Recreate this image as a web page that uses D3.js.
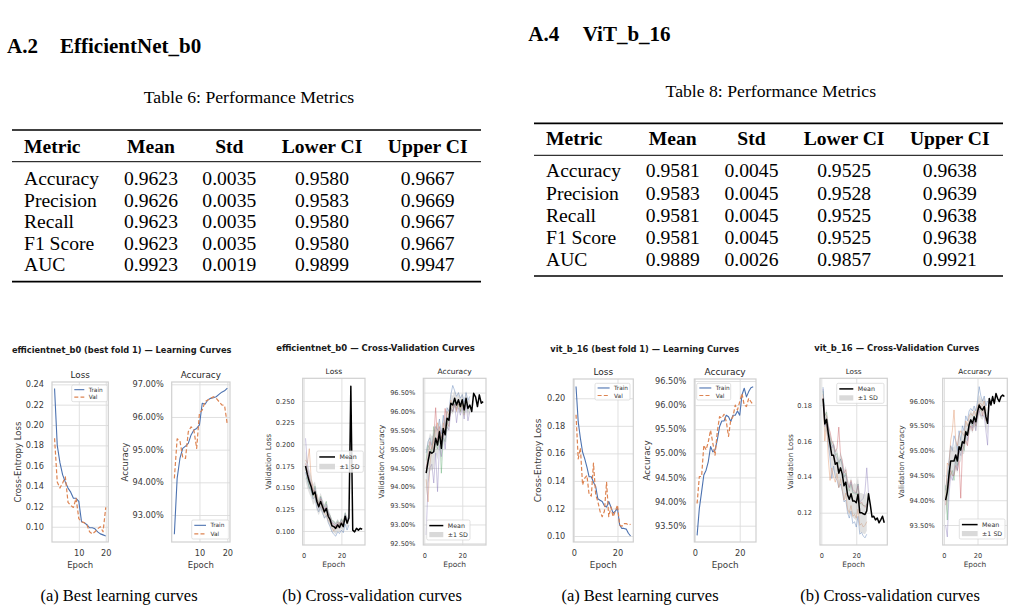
<!DOCTYPE html>
<html>
<head>
<meta charset="utf-8">
<script src="https://cdn.jsdelivr.net/npm/d3@7"></script>
<style>
  body { margin: 0; background: #fff; }
  svg { display: block; }
</style>
</head>
<body>
<svg id="page" width="1015" height="612"></svg>
<script>
// ---------- tables ----------
const tableHeaders = ['Metric', 'Mean', 'Std', 'Lower CI', 'Upper CI'];
const metricNames = ['Accuracy', 'Precision', 'Recall', 'F1 Score', 'AUC'];

const effMean  = ['0.9623', '0.9626', '0.9623', '0.9623', '0.9923'];
const effStd   = ['0.0035', '0.0035', '0.0035', '0.0035', '0.0019'];
const effLower = ['0.9580', '0.9583', '0.9580', '0.9580', '0.9899'];
const effUpper = ['0.9667', '0.9669', '0.9667', '0.9667', '0.9947'];

const vitMean  = ['0.9581', '0.9583', '0.9581', '0.9581', '0.9889'];
const vitStd   = ['0.0045', '0.0045', '0.0045', '0.0045', '0.0026'];
const vitLower = ['0.9525', '0.9528', '0.9525', '0.9525', '0.9857'];
const vitUpper = ['0.9638', '0.9639', '0.9638', '0.9638', '0.9921'];

// ---------- efficientnet_b0, best fold ----------
const effTrainLoss = [0.236, 0.180, 0.163, 0.151, 0.144, 0.138, 0.134, 0.128, 0.128, 0.125, 0.105, 0.104, 0.102, 0.099, 0.099, 0.098, 0.095, 0.093, 0.092, 0.091];
const effValLoss   = [0.187, 0.144, 0.138, 0.143, 0.149, 0.124, 0.121, 0.119, 0.128, 0.108, 0.105, 0.104, 0.102, 0.095, 0.093, 0.095, 0.098, 0.100, 0.095, 0.119];
const effTrainAcc  = [92.41, 94.12, 94.73, 95.04, 95.11, 95.19, 95.45, 95.60, 95.65, 95.76, 96.42, 96.39, 96.52, 96.57, 96.59, 96.62, 96.69, 96.76, 96.80, 96.88];
const effValAcc    = [94.12, 95.33, 95.27, 94.76, 94.73, 95.55, 95.70, 95.60, 95.04, 96.12, 96.21, 96.47, 96.52, 96.57, 96.62, 96.57, 96.47, 96.37, 96.35, 95.76];

// ---------- efficientnet_b0, cross-validation ----------
const effCvLossMean = [0.175, 0.165, 0.157, 0.151, 0.142, 0.145, 0.134, 0.128, 0.134, 0.128, 0.122, 0.126, 0.117, 0.113, 0.106, 0.105, 0.103, 0.107, 0.104, 0.109, 0.105, 0.117, 0.109, 0.115, 0.267, 0.101, 0.099, 0.103, 0.101, 0.103, 0.102];
const effCvLossSd   = [0.018, 0.016, 0.014, 0.013, 0.012, 0.012, 0.011, 0.010, 0.010, 0.009, 0.009, 0.009, 0.008, 0.008, 0.007, 0.007, 0.007, 0.007, 0.006, 0.006, 0.006, 0.006, 0.006, 0.006];
const effLossFold1 = [0.168, 0.158, 0.150, 0.146, 0.137, 0.140, 0.127, 0.122, 0.128, 0.121, 0.115, 0.118, 0.110, 0.105, 0.099, 0.096, 0.094, 0.099, 0.097, 0.101, 0.098, 0.108, 0.101, 0.107];
const effLossFold2 = [0.182, 0.178, 0.195, 0.160, 0.150, 0.138, 0.142, 0.131, 0.129, 0.125, 0.120, 0.119, 0.112, 0.110, 0.104, 0.100, 0.106, 0.103, 0.110, 0.107, 0.112, 0.118];
const effLossFold3 = [0.160, 0.162, 0.150, 0.148, 0.140, 0.152, 0.136, 0.133, 0.140, 0.132, 0.128, 0.134, 0.121, 0.118, 0.112, 0.111, 0.108, 0.112, 0.107, 0.114, 0.110, 0.121, 0.114];
const effLossFold4 = [0.178, 0.170, 0.160, 0.155, 0.146, 0.147, 0.136, 0.130, 0.137, 0.131, 0.125, 0.128, 0.120, 0.116, 0.109, 0.108, 0.105, 0.110, 0.106, 0.111];
const effLossFold5 = [0.207, 0.175, 0.163, 0.150, 0.143, 0.150, 0.138, 0.126, 0.139, 0.133, 0.124, 0.131, 0.122, 0.117, 0.110, 0.109, 0.106, 0.110, 0.108, 0.113, 0.108, 0.120, 0.112, 0.118];

const effCvAccMean = [94.36, 94.67, 94.93, 94.89, 94.93, 95.29, 95.11, 95.46, 95.02, 95.55, 95.38, 95.82, 95.77, 96.22, 96.17, 96.35, 96.17, 96.31, 96.13, 96.31, 96.04, 96.35, 96.08, 96.17, 96.00, 96.48, 96.39, 96.13, 96.44, 96.22, 96.26];
const effCvAccSd   = [0.60, 0.55, 0.50, 0.45, 0.45, 0.40, 0.40, 0.35, 0.35, 0.30, 0.30, 0.28, 0.25, 0.25, 0.25, 0.22, 0.20, 0.20, 0.20, 0.20, 0.20, 0.20, 0.20, 0.20];
const effAccFold1 = [94.90, 95.20, 95.30, 95.10, 95.40, 95.60, 95.50, 95.80, 95.40, 95.90, 95.60, 96.10, 96.00, 96.45, 96.69, 96.55, 96.40, 96.50, 96.35, 96.45, 96.25, 96.50, 96.30, 96.40];
const effAccFold2 = [94.20, 93.60, 94.60, 95.00, 95.20, 95.50, 95.70, 95.30, 95.20, 95.70, 95.50, 96.00, 95.90, 96.30, 96.10, 96.20, 96.00, 96.30, 96.00, 96.20, 95.90, 96.20];
const effAccFold3 = [94.70, 95.10, 95.00, 94.90, 95.60, 95.20, 95.00, 95.50, 94.36, 95.30, 95.20, 95.60, 95.80, 96.10, 96.00, 96.30, 96.10, 96.20, 96.00, 96.25, 95.95, 96.30, 96.00];
const effAccFold4 = [94.50, 94.80, 95.20, 95.00, 95.30, 96.10, 95.20, 95.60, 95.30, 95.40, 96.08, 95.70, 95.60, 96.10, 96.00, 96.20, 96.05, 96.20, 96.10, 96.20];
const effAccFold5 = [92.72, 94.10, 94.50, 94.60, 94.10, 94.90, 93.87, 95.10, 94.80, 95.40, 95.00, 95.60, 95.50, 96.05, 96.00, 96.20, 95.70, 96.10, 95.90, 96.10, 95.80, 96.20, 95.75, 96.00];

// ---------- vit_b_16, best fold ----------
const vitTrainLoss = [0.2085, 0.183, 0.171, 0.161, 0.156, 0.150, 0.143, 0.143, 0.139, 0.136, 0.127, 0.126, 0.125, 0.122, 0.121, 0.125, 0.121, 0.1165, 0.118, 0.120, 0.108, 0.1055, 0.1055, 0.105, 0.102, 0.100];
const vitValLoss   = [0.188, 0.156, 0.164, 0.137, 0.142, 0.144, 0.130, 0.129, 0.153, 0.130, 0.125, 0.118, 0.114, 0.118, 0.139, 0.114, 0.121, 0.114, 0.118, 0.1225, 0.108, 0.107, 0.109, 0.109, 0.108, 0.1085];
const vitTrainAcc  = [93.30, 93.86, 94.20, 94.55, 94.65, 94.83, 95.14, 95.03, 95.07, 95.28, 95.55, 95.67, 95.67, 95.79, 95.76, 95.66, 95.79, 95.79, 95.88, 95.79, 96.21, 96.35, 96.17, 96.28, 96.36, 96.38];
const vitValAcc    = [93.96, 94.52, 94.52, 95.17, 95.07, 95.24, 95.48, 95.21, 94.96, 95.45, 95.76, 95.73, 95.81, 95.66, 95.35, 95.69, 95.76, 96.00, 95.90, 96.07, 96.24, 96.00, 95.97, 96.14, 96.07, 96.00];

// ---------- vit_b_16, cross-validation ----------
const vitCvLossMean = [0.1836, 0.1695, 0.172, 0.164, 0.158, 0.152, 0.152, 0.147, 0.148, 0.142, 0.145, 0.1415, 0.135, 0.137, 0.130, 0.1275, 0.1306, 0.1265, 0.1265, 0.1256, 0.1303, 0.120, 0.120, 0.1194, 0.119, 0.121, 0.1306, 0.1247, 0.1176, 0.118, 0.116, 0.117, 0.1144, 0.116, 0.118, 0.1144];
const vitCvLossSd   = [0.004, 0.005, 0.006, 0.007, 0.007, 0.008, 0.008, 0.008, 0.008, 0.008, 0.009, 0.009, 0.009, 0.009, 0.009, 0.009, 0.009, 0.009, 0.010, 0.010, 0.010, 0.011, 0.011, 0.011, 0.011, 0.011];
const vitLossFold1 = [0.190, 0.172, 0.168, 0.158, 0.150, 0.139, 0.146, 0.140, 0.138, 0.134, 0.136, 0.132, 0.126, 0.127, 0.120, 0.117, 0.121, 0.114, 0.115, 0.112, 0.118, 0.108, 0.109, 0.107, 0.106, 0.108];
const vitLossFold2 = [0.186, 0.160, 0.170, 0.150, 0.138, 0.145, 0.140, 0.137, 0.142, 0.134, 0.139, 0.133, 0.127, 0.131, 0.122, 0.120, 0.124, 0.118, 0.119, 0.117, 0.122, 0.113, 0.114, 0.112, 0.113, 0.115];
const vitLossFold3 = [0.188, 0.174, 0.176, 0.166, 0.162, 0.158, 0.157, 0.152, 0.153, 0.147, 0.150, 0.146, 0.140, 0.142, 0.135, 0.132, 0.136, 0.131, 0.131, 0.130, 0.136, 0.125, 0.125, 0.124, 0.124];
const vitLossFold4 = [0.184, 0.175, 0.174, 0.168, 0.165, 0.160, 0.158, 0.154, 0.156, 0.1677, 0.152, 0.149, 0.142, 0.144, 0.137, 0.134, 0.138, 0.133, 0.132, 0.131, 0.135, 0.125, 0.126, 0.124, 0.123, 0.125];
const vitLossFold5 = [0.189, 0.168, 0.172, 0.168, 0.160, 0.156, 0.158, 0.152, 0.150, 0.148, 0.150, 0.147, 0.140, 0.141, 0.136, 0.134, 0.137, 0.132, 0.131, 0.131, 0.136, 0.126, 0.127, 0.128, 0.132, 0.145, 0.1306];

const vitCvAccMean = [94.00, 94.17, 94.51, 94.79, 94.79, 94.79, 94.91, 94.79, 95.08, 95.01, 95.18, 95.15, 95.38, 95.31, 95.52, 95.62, 95.55, 95.68, 95.58, 95.78, 95.92, 95.85, 95.82, 95.89, 95.68, 95.55, 96.05, 95.92, 96.09, 95.95, 96.15, 96.05, 95.99, 96.09, 96.12, 96.09];
const vitCvAccSd   = [0.30, 0.30, 0.30, 0.30, 0.28, 0.28, 0.28, 0.25, 0.25, 0.25, 0.25, 0.22, 0.22, 0.22, 0.20, 0.20, 0.20, 0.20, 0.20, 0.20, 0.20, 0.20, 0.20, 0.20, 0.22, 0.22];
const vitAccFold1 = [94.20, 94.50, 94.80, 95.10, 95.00, 95.30, 95.20, 95.00, 95.40, 95.20, 95.50, 95.40, 95.70, 95.60, 95.80, 95.85, 95.80, 95.90, 95.80, 96.00, 96.29, 96.10, 96.00, 96.10, 95.90, 96.00];
const vitAccFold2 = [94.00, 94.75, 94.70, 95.20, 95.40, 95.82, 95.20, 95.10, 95.30, 95.40, 95.35, 95.30, 95.60, 95.50, 95.70, 95.75, 95.70, 95.80, 95.70, 95.90, 95.95, 95.95, 95.90, 96.00, 95.80];
const vitAccFold3 = [94.30, 93.60, 94.60, 94.50, 94.60, 94.40, 94.90, 94.70, 95.00, 95.10, 95.20, 95.00, 95.40, 95.30, 95.50, 95.60, 95.50, 95.70, 95.50, 95.80, 95.90, 95.80, 95.80, 95.90];
const vitAccFold4 = [93.90, 94.20, 94.30, 94.60, 94.50, 94.50, 94.70, 94.60, 94.80, 94.04, 95.00, 95.10, 95.20, 95.10, 95.40, 95.50, 95.40, 95.60, 95.50, 95.70, 95.80, 95.90, 95.70, 95.90, 95.60, 95.70];
const vitAccFold5 = [93.50, 93.26, 94.10, 94.50, 94.40, 94.60, 94.80, 94.60, 95.00, 94.90, 95.10, 95.20, 95.40, 95.20, 95.50, 95.60, 95.45, 95.60, 95.40, 95.70, 95.80, 95.70, 95.70, 95.70, 95.40, 95.11, 96.05];

// ---------- tick values ----------
const effLossTicks   = [0.10, 0.12, 0.14, 0.16, 0.18, 0.20, 0.22, 0.24];
const effAccTicks    = [93, 94, 95, 96, 97];
const effCvLossTicks = [0.100, 0.125, 0.150, 0.175, 0.200, 0.225, 0.250];
const effCvAccTicks  = [92.5, 93, 93.5, 94, 94.5, 95, 95.5, 96, 96.5];
const vitLossTicks   = [0.10, 0.12, 0.14, 0.16, 0.18, 0.20];
const vitAccTicks    = [93.5, 94, 94.5, 95, 95.5, 96, 96.5];
const vitCvLossTicks = [0.12, 0.14, 0.16, 0.18];
const vitCvAccTicks  = [93.5, 94, 94.5, 95, 95.5, 96];

const SERIF = '"Liberation Serif", "Times New Roman", serif';
const SANS = '"DejaVu Sans", Verdana, sans-serif';
const BLUE = '#4c72b0', ORANGE = '#dd8452';
const FOLD_COLORS = ['#4c72b0', '#dd8452', '#55a868', '#c44e52', '#8172b3'];

const svg = d3.select('#page');

// ---------- headings ----------
function heading(num, name, x0, x1, baseline) {
    svg.append('text').attr('x', x0).attr('y', baseline)
        .attr('font-family', SERIF).attr('font-weight', 'bold').attr('font-size', 21).text(num);
    svg.append('text').attr('x', x1).attr('y', baseline)
        .attr('font-family', SERIF).attr('font-weight', 'bold').attr('font-size', 21).text(name);
}
heading('A.2', 'EfficientNet_b0', 7, 60, 53.3);
heading('A.4', 'ViT_b_16', 528.3, 582.7, 40.7);

// ---------- tables ----------
function drawTable(t) {
    const g = svg.append('g').attr('font-family', SERIF).attr('fill', '#000');
    g.append('text').attr('x', t.captionX).attr('y', t.captionY)
        .attr('text-anchor', 'middle').attr('font-size', 17.7).text(t.caption);

    const rule = (yy, w) => g.append('line')
        .attr('x1', t.x0).attr('x2', t.x1).attr('y1', yy).attr('y2', yy)
        .attr('stroke', '#000').attr('stroke-width', w);
    rule(t.top, 1.7);
    rule(t.mid, 1);
    rule(t.bottom, 1.7);

    g.selectAll('.hdr').data(tableHeaders).join('text')
        .attr('x', (d, i) => t.cols[i])
        .attr('y', t.headerY)
        .attr('text-anchor', (d, i) => i === 0 ? 'start' : 'middle')
        .attr('font-weight', 'bold').attr('font-size', 19.6)
        .text(d => d);

    const columns = [metricNames, t.mean, t.std, t.lower, t.upper];
    metricNames.forEach((m, r) => {
        columns.forEach((col, c) => {
            g.append('text')
                .attr('x', t.cols[c])
                .attr('y', t.rowY0 + r * t.rowStep)
                .attr('text-anchor', c === 0 ? 'start' : 'middle')
                .attr('font-size', 19.6)
                .text(col[r]);
        });
    });
}

drawTable({
    caption: 'Table 6: Performance Metrics', captionX: 249, captionY: 103.3,
    x0: 12, x1: 481, top: 130, mid: 161.7, bottom: 281.7,
    cols: [24, 151, 229.3, 322, 427.7], headerY: 152.7, rowY0: 185, rowStep: 21.6,
    mean: effMean, std: effStd, lower: effLower, upper: effUpper
});
drawTable({
    caption: 'Table 8: Performance Metrics', captionX: 770.8, captionY: 96.7,
    x0: 534, x1: 1003, top: 123.3, mid: 155.3, bottom: 276,
    cols: [546, 672.8, 751.5, 844.1, 949.8], headerY: 145.3, rowY0: 177.3, rowStep: 22.2,
    mean: vitMean, std: vitStd, lower: vitLower, upper: vitUpper
});

// ---------- plot panels ----------
const pct = d => d.toFixed(2) + '%';
const trainValItems = [
    { label: 'Train', color: BLUE, width: 1.1 },
    { label: 'Val', color: ORANGE, width: 1.2, dash: '4,2.2' }
];
const meanSdItems = [
    { label: 'Mean', color: '#000', width: 1.5 },
    { label: '\u00b11 SD', patch: true }
];

function drawLegend(g, L, fs) {
    g.append('rect')
        .attr('x', L.x).attr('y', L.y).attr('width', L.w).attr('height', L.h)
        .attr('rx', 1.5).attr('fill', '#fff').attr('fill-opacity', 0.85)
        .attr('stroke', '#d4d4d4').attr('stroke-width', 0.7);
    L.items.forEach((it, i) => {
        const cy = L.y + L.h * (i === 0 ? 0.28 : 0.73);
        const sx0 = L.x + 2.6, sx1 = sx0 + L.sample;
        if (it.patch) {
            g.append('rect').attr('x', sx0).attr('y', cy - L.h * 0.13)
                .attr('width', L.sample).attr('height', L.h * 0.26)
                .attr('fill', '#d9d9d9');
        } else {
            g.append('line').attr('x1', sx0).attr('x2', sx1).attr('y1', cy).attr('y2', cy)
                .attr('stroke', it.color).attr('stroke-width', it.width)
                .attr('stroke-dasharray', it.dash || null);
        }
        g.append('text').attr('x', sx1 + 4.5).attr('y', cy).attr('dy', '0.35em')
            .attr('font-size', fs).attr('fill', '#333').text(it.label);
    });
}

function drawPanel(p) {
    const [x0, y0, x1, y1] = p.box;
    const all = (p.lines || []).map(s => s.values).concat(p.folds || []).concat(p.mean ? [p.mean] : []);
    const n = d3.max(all, v => v.length);
    const pad = 0.05 * (n - 1);
    const x = d3.scaleLinear().domain([1 - pad, n + pad]).range([x0, x1]);
    const y = d3.scaleLinear().domain(p.yDomain).range([y1, y0]);

    const g = svg.append('g').attr('font-family', SANS);

    // y axis with grid
    const ya = g.append('g').attr('transform', `translate(${x0},0)`)
        .call(d3.axisLeft(y).tickValues(p.yTicks).tickFormat(p.yFmt)
            .tickSize(-(x1 - x0)).tickPadding(8));
    // x axis with grid
    const xa = g.append('g').attr('transform', `translate(0,${y1})`)
        .call(d3.axisBottom(x).tickValues(p.xTicks).tickFormat(d3.format('d'))
            .tickSize(-(y1 - y0)).tickPadding(11 - 0.345 * p.fs.tick));
    [ya, xa].forEach(a => {
        a.select('.domain').remove();
        a.selectAll('line').attr('stroke', '#dcdcdc').attr('stroke-width', 0.9);
        a.selectAll('text').attr('font-family', SANS).attr('font-size', p.fs.tick).attr('fill', '#3a3a3a');
    });

    g.append('clipPath').attr('id', p.id)
        .append('rect').attr('x', x0).attr('y', y0).attr('width', x1 - x0).attr('height', y1 - y0);
    const plot = g.append('g').attr('clip-path', `url(#${p.id})`);
    const line = d3.line().x((d, i) => x(i + 1)).y(d => y(d));

    if (p.folds) {
        p.folds.forEach((f, k) => {
            plot.append('path').attr('d', line(f)).attr('fill', 'none')
                .attr('stroke', FOLD_COLORS[k]).attr('stroke-width', 0.8).attr('stroke-opacity', 0.5);
        });
        const area = d3.area().x((d, i) => x(i + 1))
            .y0((d, i) => y(p.mean[i] - d)).y1((d, i) => y(p.mean[i] + d));
        plot.append('path').attr('d', area(p.sd)).attr('fill', '#a8a8a8').attr('fill-opacity', 0.35);
        plot.append('path').attr('d', line(p.mean)).attr('fill', 'none')
            .attr('stroke', '#000').attr('stroke-width', 1.5).attr('stroke-linejoin', 'round');
    }
    (p.lines || []).forEach(s => {
        plot.append('path').attr('d', line(s.values)).attr('fill', 'none')
            .attr('stroke', s.color).attr('stroke-width', s.width)
            .attr('stroke-dasharray', s.dash || null).attr('stroke-linejoin', 'round');
    });

    // spines
    g.append('rect').attr('x', x0).attr('y', y0).attr('width', x1 - x0).attr('height', y1 - y0)
        .attr('fill', 'none').attr('stroke', '#d0d0d0').attr('stroke-width', 1.2);

    g.append('text').attr('x', (x0 + x1) / 2).attr('y', y0 - 7).attr('dy', '0.35em')
        .attr('text-anchor', 'middle').attr('font-size', p.fs.title).attr('fill', '#262626').text(p.title);
    g.append('text').attr('x', (x0 + x1) / 2).attr('y', 565).attr('dy', '0.33em')
        .attr('text-anchor', 'middle').attr('font-size', p.fs.label).attr('fill', '#3a3a3a').text('Epoch');
    g.append('text').attr('transform', `translate(${p.ylabelX},${(y0 + y1) / 2}) rotate(-90)`)
        .attr('dy', '0.35em').attr('text-anchor', 'middle')
        .attr('font-size', p.fs.label).attr('fill', '#3a3a3a').text(p.ylabel);

    drawLegend(g, p.legend, p.fs.legend);
}

const fsBig = { tick: 8.2, label: 8.5, title: 8.8, legend: 5.8 };
const fsSmall = { tick: 6.6, label: 7.5, title: 7.5, legend: 6.3 };

const panels = [
    {
        id: 'c1', box: [52, 382, 108.3, 542], yDomain: [0.085, 0.2423], yTicks: effLossTicks,
        yFmt: d => d.toFixed(2), xTicks: [10, 20], title: 'Loss', ylabel: 'Cross-Entropy Loss', ylabelX: 18.3,
        fs: fsBig,
        lines: [{ values: effTrainLoss, color: BLUE, width: 1.1 }, { values: effValLoss, color: ORANGE, width: 1.2, dash: '4,2.2' }],
        legend: { x: 71.7, y: 385, w: 35.6, h: 16.7, sample: 10, items: trainValItems }
    },
    {
        id: 'c2', box: [171.7, 382, 230, 542], yDomain: [92.174, 97.07], yTicks: effAccTicks,
        yFmt: pct, xTicks: [10, 20], title: 'Accuracy', ylabel: 'Accuracy', ylabelX: 125,
        fs: fsBig,
        lines: [{ values: effTrainAcc, color: BLUE, width: 1.1 }, { values: effValAcc, color: ORANGE, width: 1.2, dash: '4,2.2' }],
        legend: { x: 191.7, y: 520, w: 37.3, h: 19, sample: 11.7, items: trainValItems }
    },
    {
        id: 'c3', box: [302.7, 378.3, 365, 545], yDomain: [0.0838, 0.2762], yTicks: effCvLossTicks,
        yFmt: d => d.toFixed(3), xTicks: [0, 20], title: 'Loss', ylabel: 'Validation Loss', ylabelX: 268.3,
        fs: fsSmall,
        folds: [effLossFold1, effLossFold2, effLossFold3, effLossFold4, effLossFold5],
        mean: effCvLossMean, sd: effCvLossSd,
        legend: { x: 316.7, y: 451, w: 46.6, h: 21.3, sample: 15.7, items: meanSdItems }
    },
    {
        id: 'c4', box: [423.3, 378.3, 486, 545], yDomain: [92.455, 96.88], yTicks: effCvAccTicks,
        yFmt: pct, xTicks: [0, 20], title: 'Accuracy', ylabel: 'Validation Accuracy', ylabelX: 381.7,
        fs: fsSmall,
        folds: [effAccFold1, effAccFold2, effAccFold3, effAccFold4, effAccFold5],
        mean: effCvAccMean, sd: effCvAccSd,
        legend: { x: 426.7, y: 520, w: 43.3, h: 20, sample: 14, items: meanSdItems }
    },
    {
        id: 'c5', box: [573.3, 379, 633.3, 542], yDomain: [0.09564, 0.2140], yTicks: vitLossTicks,
        yFmt: d => d.toFixed(2), xTicks: [0, 20], title: 'Loss', ylabel: 'Cross-Entropy Loss', ylabelX: 538.3,
        fs: { tick: 8.2, label: 8.8, title: 9, legend: 5.8 },
        lines: [{ values: vitTrainLoss, color: BLUE, width: 1.1 }, { values: vitValLoss, color: ORANGE, width: 1.2, dash: '4,2.2' }],
        legend: { x: 595, y: 383.3, w: 35, h: 16.7, sample: 12, items: trainValItems }
    },
    {
        id: 'c6', box: [694.3, 379, 756, 542], yDomain: [93.162, 96.541], yTicks: vitAccTicks,
        yFmt: pct, xTicks: [0, 20], title: 'Accuracy', ylabel: 'Accuracy', ylabelX: 646.7,
        fs: { tick: 8.2, label: 8.8, title: 9, legend: 5.8 },
        lines: [{ values: vitTrainAcc, color: BLUE, width: 1.1 }, { values: vitValAcc, color: ORANGE, width: 1.2, dash: '4,2.2' }],
        legend: { x: 696.7, y: 383.3, w: 34, h: 16.7, sample: 12, items: trainValItems }
    },
    {
        id: 'c7', box: [820, 378.3, 887.3, 545], yDomain: [0.102, 0.1949], yTicks: vitCvLossTicks,
        yFmt: d => d.toFixed(2), xTicks: [0, 20], title: 'Loss', ylabel: 'Validation Loss', ylabelX: 790,
        fs: { tick: 6.6, label: 7.4, title: 7.3, legend: 6.3 },
        folds: [vitLossFold1, vitLossFold2, vitLossFold3, vitLossFold4, vitLossFold5],
        mean: vitCvLossMean, sd: vitCvLossSd,
        legend: { x: 836.7, y: 383.3, w: 47.3, h: 20, sample: 14, items: meanSdItems }
    },
    {
        id: 'c8', box: [942.7, 378.3, 1007.3, 545], yDomain: [93.097, 96.458], yTicks: vitCvAccTicks,
        yFmt: pct, xTicks: [0, 20], title: 'Accuracy', ylabel: 'Validation Accuracy', ylabelX: 901.7,
        fs: { tick: 6.6, label: 7.4, title: 7.3, legend: 6.3 },
        folds: [vitAccFold1, vitAccFold2, vitAccFold3, vitAccFold4, vitAccFold5],
        mean: vitCvAccMean, sd: vitCvAccSd,
        legend: { x: 959.3, y: 519, w: 45.7, h: 20, sample: 15.7, items: meanSdItems }
    }
];
panels.forEach(drawPanel);

// ---------- figure titles (scaled to the width they take in the page) ----------
const figTitles = [
    { text: 'efficientnet_b0 (best fold 1) \u2014 Learning Curves', cx: 121.7, cy: 350, w: 220 },
    { text: 'efficientnet_b0 \u2014 Cross-Validation Curves', cx: 375.5, cy: 347.7, w: 199 },
    { text: 'vit_b_16 (best fold 1) \u2014 Learning Curves', cx: 644.7, cy: 349, w: 189.3 },
    { text: 'vit_b_16 \u2014 Cross-Validation Curves', cx: 896.7, cy: 347.5, w: 165.3 }
];
figTitles.forEach(t => {
    const el = svg.append('text').attr('x', t.cx).attr('y', t.cy).attr('dy', '0.36em')
        .attr('text-anchor', 'middle').attr('font-family', SANS).attr('font-weight', 'bold')
        .attr('font-size', 8).attr('fill', '#1a1a1a').text(t.text);
    const len = el.node().getComputedTextLength();
    el.attr('font-size', 8 * t.w / len);
});

// ---------- sub-captions ----------
const subCaptions = ['(a) Best learning curves', '(b) Cross-validation curves', '(a) Best learning curves', '(b) Cross-validation curves'];
const subCaptionX = [119, 372, 640, 890];
svg.selectAll('.subcap').data(subCaptions).join('text')
    .attr('x', (d, i) => subCaptionX[i]).attr('y', 601)
    .attr('text-anchor', 'middle').attr('font-family', SERIF).attr('font-size', 16.5)
    .text(d => d);
</script>
</body>
</html>
